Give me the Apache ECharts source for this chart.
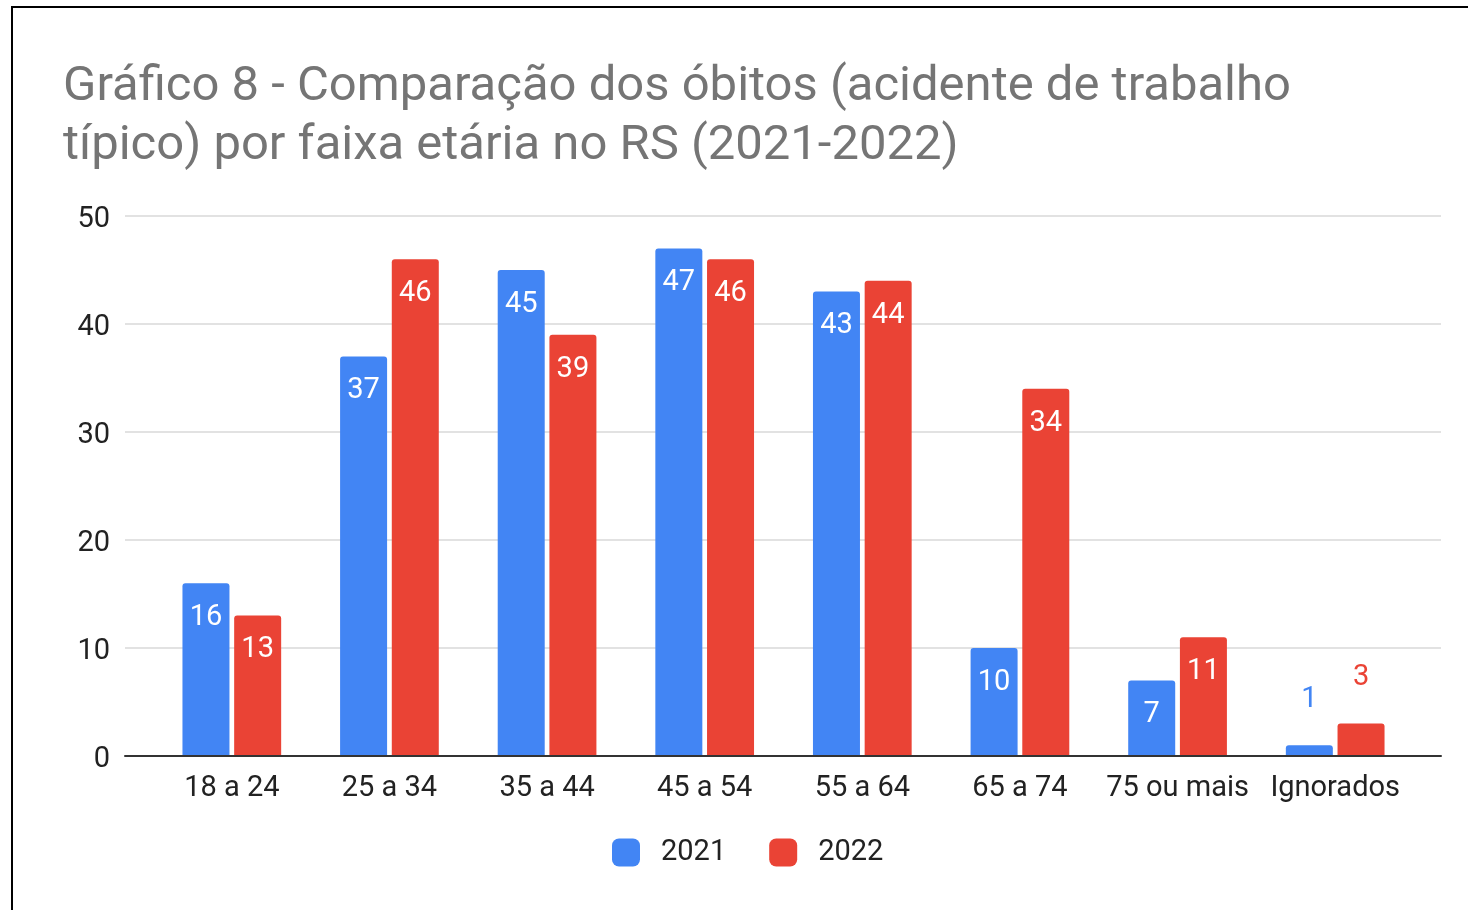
<!DOCTYPE html>
<html>
<head>
<meta charset="utf-8">
<script src="https://cdn.jsdelivr.net/npm/echarts@6/dist/echarts.min.js"></script>
<style>
  html, body { margin: 0; padding: 0; background: #fff; }
  #frame { position: absolute; left: 11px; top: 6px; width: 1457px; height: 904px;
           border-left: 2px solid #000; border-top: 2px solid #000; box-sizing: border-box; }
  #chart { position: absolute; left: 0; top: 0; width: 1468px; height: 910px; }
</style>
</head>
<body>
<div id="frame"></div>
<div id="chart"></div>
<script>
const categories = ['18 a 24', '25 a 34', '35 a 44', '45 a 54', '55 a 64', '65 a 74', '75 ou mais', 'Ignorados'];
const values2021 = [16, 37, 45, 47, 43, 10, 7, 1];
const values2022 = [13, 46, 39, 46, 44, 34, 11, 3];
const yTicks = [0, 10, 20, 30, 40, 50];

const blue = '#4285F4';
const red = '#EA4335';

// small bars get their label above the bar, in the series colour
function withLabels(values, color) {
  return values.map(function (v) {
    if (v < 5) {
      return { value: v, label: { position: 'top', distance: 31, color: color } };
    }
    return v;
  });
}

const chart = echarts.init(document.getElementById('chart'), null, { renderer: 'canvas' });

const barLabel = {
  show: true, position: 'insideTop', distance: 20, color: '#fff',
  fontFamily: 'Roboto', fontSize: 29
};

const option = {
  backgroundColor: 'transparent',
  animation: false,
  title: {
    text: 'Gráfico 8 - Comparação dos óbitos (acidente de trabalho\ntípico) por faixa etária no RS (2021-2022)',
    left: 58, top: 53,
    textStyle: { color: '#757575', fontFamily: 'Roboto', fontWeight: 'normal', fontSize: 49, lineHeight: 59 }
  },
  legend: {
    data: ['2021', '2022'],
    bottom: 38, left: 607,
    itemWidth: 28, itemHeight: 28, itemGap: 43,
    icon: 'roundRect',
    textStyle: { color: '#222', fontFamily: 'Roboto', fontSize: 29, padding: [0, 0, 0, 16] }
  },
  grid: [
    { left: 125, right: 27, top: 216, bottom: 154 },
    { left: 153, right: 54, top: 216, bottom: 154 }
  ],
  xAxis: [
    { type: 'category', gridIndex: 0, data: [''], axisTick: { show: false }, axisLabel: { show: false },
      axisLine: { lineStyle: { color: '#333', width: 2 } }, z: 10 },
    { type: 'category', gridIndex: 1, data: categories, axisTick: { show: false },
      axisLine: { show: false },
      axisLabel: { color: '#222', fontFamily: 'Roboto', fontSize: 29, margin: 18, interval: 0 } }
  ],
  yAxis: [
    { type: 'value', gridIndex: 0, min: yTicks[0], max: yTicks[yTicks.length - 1], interval: 10,
      axisLine: { show: false }, axisTick: { show: false },
      axisLabel: { color: '#222', fontFamily: 'Roboto', fontSize: 29, margin: 15,
                   formatter: '{v|{value}}',
                   rich: { v: { fontFamily: 'Roboto', fontSize: 29, color: '#222', padding: [8, 0, 0, 0] } } },
      splitLine: { lineStyle: { color: '#d9d9d9', width: 1.5 } } },
    { type: 'value', gridIndex: 1, min: yTicks[0], max: yTicks[yTicks.length - 1], interval: 10,
      show: false }
  ],
  series: [
    { name: '2021', type: 'bar', xAxisIndex: 1, yAxisIndex: 1, data: withLabels(values2021, blue),
      barWidth: 47, barGap: '10%', itemStyle: { color: blue, borderRadius: [3, 3, 0, 0] }, label: barLabel },
    { name: '2022', type: 'bar', xAxisIndex: 1, yAxisIndex: 1, data: withLabels(values2022, red),
      barWidth: 47, barGap: '10%', itemStyle: { color: red, borderRadius: [3, 3, 0, 0] }, label: barLabel }
  ]
};

chart.setOption(option);
</script>
</body>
</html>
